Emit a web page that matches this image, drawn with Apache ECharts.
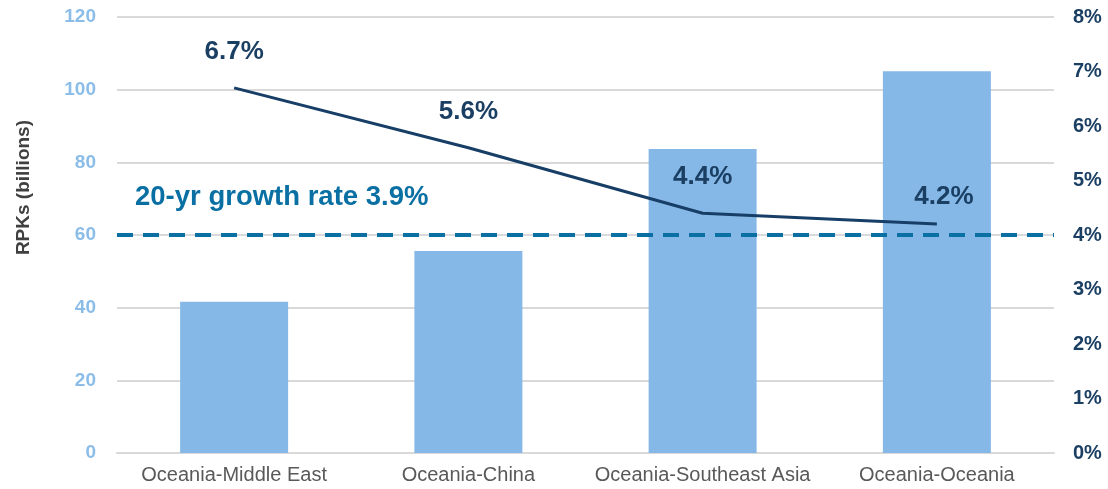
<!DOCTYPE html>
<html>
<head>
<meta charset="utf-8">
<script src="https://cdn.jsdelivr.net/npm/echarts@6/dist/echarts.min.js"></script>
<style>
html,body{margin:0;padding:0;background:#fff;}
#chart{width:1108px;height:489px;}
</style>
</head>
<body>
<div id="chart"></div>
<script>
const categories = ['Oceania-Middle East', 'Oceania-China', 'Oceania-Southeast Asia', 'Oceania-Oceania'];
const rpks = [41.6, 55.6, 83.7, 105.1];
const growth = [6.7, 5.6, 4.4, 4.2];
const benchmarkRpk = 60;
const benchmarkText = '20-yr growth rate 3.9%';
const leftAxisName = 'RPKs (billions)';

const FONT = '"Liberation Sans", Arial, Helvetica, sans-serif';
const lineData = growth.map((v, i) => i === growth.length - 1
  ? { value: v, label: { distance: 14, offset: [7, 0] } }
  : { value: v });

const chart = echarts.init(document.getElementById('chart'));
chart.setOption({
  animation: false,
  textStyle: { fontFamily: FONT },
  grid: { left: 117, right: 54, top: 17, bottom: 36 },
  xAxis: {
    type: 'category',
    data: categories,
    axisTick: { show: false },
    axisLine: { lineStyle: { color: '#D9D9D9', width: 2 } },
    axisLabel: { color: '#595959', fontSize: 20, margin: 12, interval: 0, fontFamily: FONT }
  },
  yAxis: [
    {
      type: 'value', min: 0, max: 120, interval: 20,
      axisLabel: { color: '#8BBDE8', fontSize: 19, fontWeight: 'bold', margin: 21, fontFamily: FONT },
      splitLine: { lineStyle: { color: '#D9D9D9', width: 2 } },
      axisLine: { show: false }, axisTick: { show: false }
    },
    {
      type: 'value', min: 0, max: 8, interval: 1,
      axisLabel: { color: '#1B3F63', fontSize: 20, fontWeight: 'bold', margin: 19, formatter: '{value}%', fontFamily: FONT },
      splitLine: { show: false },
      axisLine: { show: false }, axisTick: { show: false }
    }
  ],
  graphic: [{
    type: 'text',
    left: 14,
    top: 120,
    rotation: Math.PI / 2,
    style: { text: leftAxisName, fill: '#404040', font: 'bold 19px ' + FONT }
  }],
  series: [
    {
      type: 'bar',
      data: rpks,
      barWidth: 108,
      itemStyle: { color: '#85B8E6' },
      z: 1,
      markLine: {
        silent: true,
        symbol: 'none',
        data: [{ yAxis: benchmarkRpk }],
        lineStyle: { color: '#0A6FA3', width: 4, type: [16, 10] },
        label: {
          show: true,
          position: 'insideStartTop',
          formatter: benchmarkText,
          color: '#0A6FA3',
          fontSize: 27.5,
          fontWeight: 'bold',
          fontFamily: FONT,
          distance: [18, 24]
        }
      }
    },
    {
      type: 'line',
      yAxisIndex: 1,
      data: lineData,
      symbol: 'circle',
      symbolSize: 0,
      showSymbol: true,
      lineStyle: { color: '#173E66', width: 3 },
      z: 3,
      label: {
        show: true,
        position: 'top',
        distance: 23,
        formatter: p => p.value.toFixed(1) + '%',
        color: '#1B3F63',
        fontSize: 26,
        fontWeight: 'bold',
        fontFamily: FONT
      }
    }
  ]
});
</script>
</body>
</html>
